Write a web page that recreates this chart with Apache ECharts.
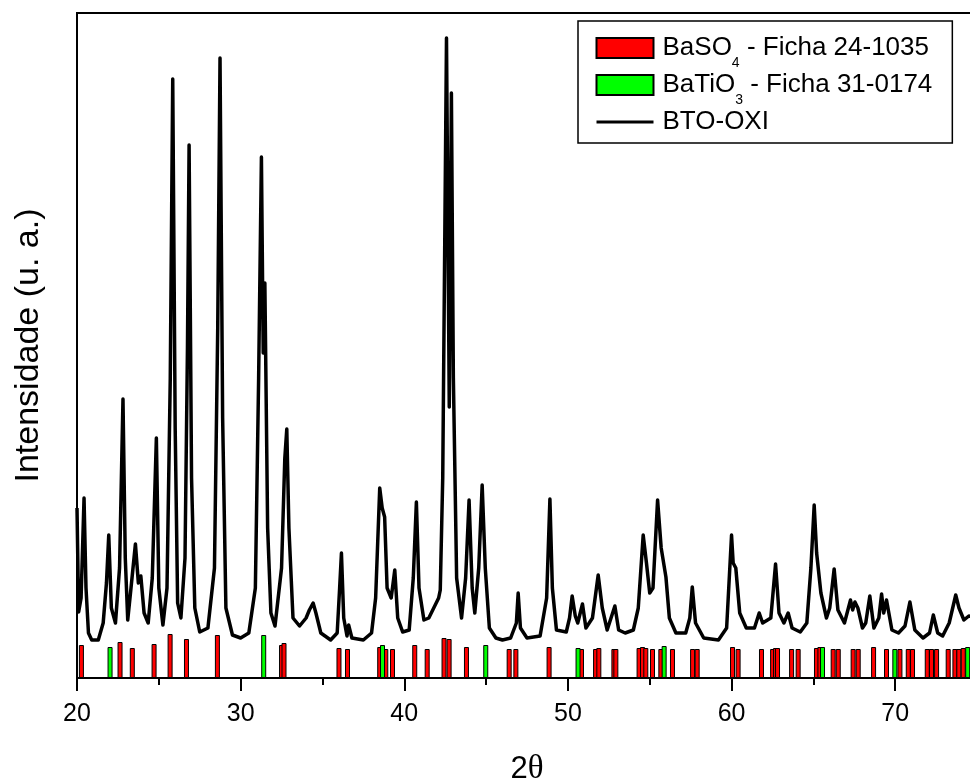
<!DOCTYPE html>
<html><head><meta charset="utf-8">
<script src="https://cdn.jsdelivr.net/npm/echarts@6/dist/echarts.min.js"></script>
<style>html,body{margin:0;padding:0;background:#fff}#c{width:970px;height:780px}</style>
</head><body><div id="c"></div>
<script>
// Measured XRD pattern (BTO-OXI)
const twoTheta = [20.00,20.10,20.25,20.43,20.55,20.70,20.90,21.30,21.60,21.80,21.94,22.10,22.35,22.60,22.81,22.95,23.10,23.30,23.57,23.75,23.90,24.10,24.35,24.60,24.85,25.00,25.25,25.50,25.70,25.85,26.00,26.15,26.35,26.60,26.75,26.85,27.00,27.20,27.50,28.00,28.40,28.60,28.74,28.90,29.10,29.50,30.00,30.50,30.90,31.10,31.27,31.38,31.48,31.65,31.85,32.10,32.50,32.70,32.82,32.95,33.20,33.60,34.00,34.20,34.43,34.60,34.90,35.50,35.90,36.05,36.16,36.30,36.50,36.60,36.80,37.50,38.00,38.25,38.50,38.65,38.80,38.95,39.20,39.42,39.60,39.90,40.30,40.55,40.74,40.90,41.20,41.50,41.80,42.10,42.20,42.35,42.58,42.75,42.88,43.00,43.20,43.50,43.75,43.96,44.15,44.31,44.55,44.76,44.95,45.20,45.60,46.00,46.50,46.85,46.96,47.10,47.50,48.30,48.70,48.90,49.05,49.30,49.90,50.10,50.26,50.45,50.60,50.89,51.10,51.50,51.85,52.10,52.40,52.87,53.10,53.50,54.00,54.30,54.60,54.80,55.00,55.20,55.48,55.70,55.99,56.20,56.60,57.20,57.45,57.60,57.80,58.30,59.20,59.70,60.00,60.10,60.26,60.50,60.90,61.40,61.69,61.90,62.40,62.69,62.90,63.20,63.46,63.70,64.20,64.60,64.85,65.05,65.20,65.46,65.80,66.00,66.27,66.50,66.90,67.27,67.40,67.54,67.72,68.00,68.20,68.45,68.70,69.00,69.17,69.30,69.47,69.80,70.20,70.60,70.90,71.20,71.70,72.10,72.33,72.60,72.90,73.30,73.70,73.90,74.20,74.50,75.00];
const intensity = [170,66,80,180,90,45,38,38,55,95,143,70,55,110,279,120,58,90,134,95,102,65,55,100,240,90,53,90,300,599,250,75,60,120,330,533,200,70,46,50,110,350,620,260,70,43,40,45,90,300,521,325,395,150,65,52,110,220,249,150,60,52,60,68,75,65,45,38,45,90,125,60,42,53,40,38,45,80,190,170,161,90,80,108,60,46,48,100,176,90,58,60,70,80,88,200,640,271,585,300,100,60,100,178,90,65,110,193,110,50,40,38,40,55,85,50,40,42,80,179,90,48,46,60,82,62,55,74,50,60,103,70,48,72,48,45,48,70,143,115,85,90,178,130,101,60,45,45,60,91,55,40,38,50,143,115,110,65,50,50,65,55,60,114,65,55,65,50,46,55,110,173,125,85,60,70,109,68,55,78,68,76,70,50,55,82,50,60,84,65,78,48,45,52,76,48,40,45,63,45,42,55,83,70,58,62,60];

// Reference card BaSO4 (24-1035)
const baso4Pos = [20.27,22.63,23.38,24.71,25.69,26.69,28.58,32.50,32.65,36.01,36.53,38.50,38.87,39.28,40.64,41.40,42.43,42.74,43.80,46.41,46.82,48.85,50.83,51.69,51.89,52.81,52.93,54.35,54.56,54.76,55.17,55.68,56.39,57.62,57.90,60.06,60.40,61.83,62.51,62.69,62.81,63.67,64.07,65.19,65.40,66.21,66.52,67.43,67.74,68.68,69.47,70.29,70.80,71.06,71.96,72.22,72.53,73.24,73.65,73.89,74.16];
const baso4Int = [33,36,30,34,44,39,43,33,35,30,29,31,29,29,33,29,40,39,31,29,29,31,29,29,30,29,29,30,31,30,29,29,29,29,29,31,29,29,29,30,30,29,29,30,31,29,29,29,29,31,29,29,29,29,29,29,29,29,29,29,30];

// Reference card BaTiO3 (31-0174)
const batio3Pos = [22.02,31.41,38.67,44.98,50.62,55.88,65.56,69.98,74.43];
const batio3Int = [31,43,33,33,30,32,31,29,31];

const xTickValues = [20,30,40,50,60,70];
const seriesNames = ['BaSO4 - Ficha 24-1035','BaTiO3 - Ficha 31-0174','BTO-OXI'];

const FONT = "'Liberation Sans', Arial, sans-serif";
const zip = (a,b) => a.map((v,i) => [v,b[i]]);
const legendRich = {};
legendRich[seriesNames[0]] = '{n|BaSO}{s|4}{n| - Ficha 24-1035}';
legendRich[seriesNames[1]] = '{n|BaTiO}{s|3}{n| - Ficha 31-0174}';
legendRich[seriesNames[2]] = '{n|BTO-OXI}';

const chart = echarts.init(document.getElementById('c'), null, {renderer:'canvas'});
chart.setOption({
  animation: false,
  backgroundColor: '#fff',
  grid: {left: 77, top: 13, width: 900, height: 665, show: true, borderColor: '#000', borderWidth: 2,
         backgroundColor: 'transparent', containLabel: false, outerBoundsMode: 'none'},
  legend: {
    orient: 'vertical', left: 578, top: 21, padding: [14, 20, 8, 17],
    borderColor: '#000', borderWidth: 1.5, backgroundColor: '#fff', borderRadius: 0,
    itemWidth: 57, itemHeight: 20, itemGap: 2,
    data: [
      {name: seriesNames[0], icon: 'rect'},
      {name: seriesNames[1], icon: 'rect'},
      {name: seriesNames[2], icon: 'line', itemStyle: {color: '#000', borderColor: '#000', borderWidth: 3}}
    ],
    formatter: n => legendRich[n],
    textStyle: {fontFamily: FONT, fontSize: 26, color: '#000', padding: [0,0,0,4],
      rich: {
        n: {fontFamily: FONT, fontSize: 26, lineHeight: 44, color: '#000'},
        s: {fontFamily: FONT, fontSize: 14, lineHeight: 2, verticalAlign: 'bottom', color: '#000'}
      }}
  },
  xAxis: {
    type: 'value', min: xTickValues[0], max: 75, interval: 10,
    name: '{a|2}{b|θ}', nameLocation: 'middle', nameGap: 75,
    nameTextStyle: {rich: {a: {fontFamily: FONT, fontSize: 31, color: '#000'}, b: {fontFamily: "'Liberation Serif', 'Times New Roman', serif", fontSize: 33, color: '#000'}}},
    axisLine: {show: true, onZero: false, lineStyle: {color: '#000', width: 2}},
    axisTick: {show: true, length: 13, lineStyle: {color: '#000', width: 2}},
    minorTick: {show: true, splitNumber: 2, length: 7, lineStyle: {color: '#000', width: 2}},
    axisLabel: {fontFamily: FONT, fontSize: 25, color: '#000', margin: 24, showMaxLabel: false},
    splitLine: {show: false}
  },
  yAxis: {
    type: 'value', min: 0, max: 665,
    name: 'Intensidade (u. a.)', nameLocation: 'middle', nameGap: 31, nameRotate: 90,
    nameTextStyle: {fontFamily: FONT, fontSize: 34, color: '#000'},
    axisLine: {show: true, lineStyle: {color: '#000', width: 2}},
    axisTick: {show: false}, axisLabel: {show: false}, splitLine: {show: false}
  },
  series: [
    {name: seriesNames[0], type: 'bar', barWidth: 5, barGap: '-100%', data: zip(baso4Pos, baso4Int),
     itemStyle: {color: '#ff0000', borderColor: '#000', borderWidth: 1}, z: 2},
    {name: seriesNames[1], type: 'bar', barWidth: 5, barGap: '-100%', data: zip(batio3Pos, batio3Int),
     itemStyle: {color: '#00ff00', borderColor: '#000', borderWidth: 1}, z: 3},
    {name: seriesNames[2], type: 'line', data: zip(twoTheta, intensity), symbol: 'none', showSymbol: false,
     lineStyle: {color: '#000', width: 3.5, join: 'round'}, itemStyle: {color: '#000'}, z: 4, clip: true}
  ]
});
</script></body></html>
